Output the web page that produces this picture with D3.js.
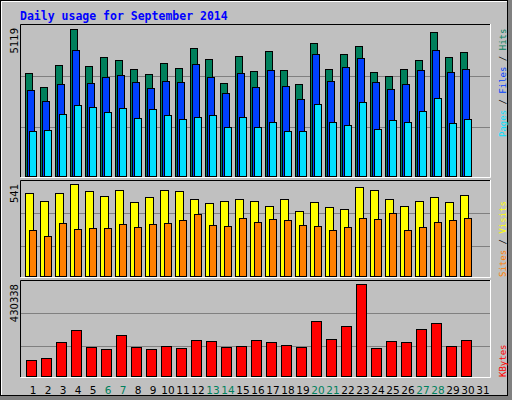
<!DOCTYPE html>
<html><head><meta charset="utf-8">
<script src="https://cdn.jsdelivr.net/npm/d3@7"></script>
<style>body{margin:0;background:#fff}</style>
</head><body>
<script>
// values
var days = d3.range(1, 32);
var weekend = [6, 7, 13, 14, 20, 21, 27, 28];
var hits = [3586,3099,3865,5119,3830,4144,4039,3726,3552,3935,3761,4457,4074,3238,4178,3656,4353,3691,3203,4631,3726,4248,4527,3621,3482,3726,4039,5014,4144,4318];
var files = [2995,2612,3203,4387,3238,3447,3517,3273,3064,3308,3273,3900,3447,2890,3586,3099,3691,3134,2681,4248,3308,3795,4109,3273,3029,3203,3691,4387,3621,3726];
var pages = [1567,1602,2159,2472,2403,2228,2368,2020,2333,2124,1985,2054,2124,1706,2054,1706,1880,1567,1567,2507,1880,1776,2577,1637,1950,1880,2263,2716,1845,1985];
var visits = [488,441,488,541,500,470,505,434,464,505,500,452,428,441,452,441,411,452,380,434,405,393,523,505,452,413,441,464,434,476];
var sites = [269,234,311,275,281,281,305,287,305,311,328,364,299,293,340,317,334,328,299,293,269,287,340,334,370,269,287,317,328,340];
var kbytes = [76800,86200,157000,213500,133400,124000,190000,133400,124000,138100,128700,166400,161700,133400,138100,166400,157000,142800,133400,255900,171100,232400,430338,128700,161700,157000,218200,246500,138100,166400];

var W = 512, H = 400;
var svg = d3.select("body").append("svg").attr("width", W).attr("height", H);

// frame
svg.append("rect").attr("width", W).attr("height", H).attr("fill", "#808080");
svg.append("rect").attr("width", W - 4).attr("height", H - 4).attr("fill", "#c0c0c0");
svg.append("rect").attr("x", 0.5).attr("y", 0.5).attr("width", W - 5).attr("height", H - 5)
  .attr("fill", "none").attr("stroke", "#000");
svg.append("path").attr("d", "M1.5 " + (H - 5) + " V1.5 H" + (W - 5)).attr("fill", "none").attr("stroke", "#fff");

svg.append("text").attr("x", 20).attr("y", 20)
  .style("font-family", "DejaVu Sans Mono").style("font-weight", "bold").style("font-size", "11.5px")
  .attr("fill", "#0000ff").text("Daily usage for September 2014");

var x = d3.scaleLinear().domain([1, 31]).range([25, 475]);

var panels = [
  {top: 24, bottom: 177, base: 176, maxY: 29, max: 5119, label: "5119", grid: [127, 76]},
  {top: 180, bottom: 277, base: 276, maxY: 184, max: 541, label: "541", grid: [246, 213]},
  {top: 280, bottom: 377, base: 376, maxY: 284, max: 430338, label: "430338", grid: [346, 313]}
];

panels.forEach(function (p) {
  p.y = d3.scaleLinear().domain([0, p.max]).range([p.base, p.maxY]);
  svg.append("path").attr("d", "M20.5 " + p.bottom + " V" + (p.top + 0.5) + " H490").attr("fill", "none").attr("stroke", "#000");
  svg.append("path").attr("d", "M20.5 " + (p.bottom + 0.5) + " H490.5 V" + p.top).attr("fill", "none").attr("stroke", "#fff");
  p.grid.forEach(function (g) {
    svg.append("line").attr("x1", 21).attr("x2", 490).attr("y1", g + 0.5).attr("y2", g + 0.5)
      .attr("stroke", "#808080");
  });
  svg.append("text").attr("transform", "translate(18," + (p.top + 4) + ") rotate(-90)")
    .attr("text-anchor", "end").style("font-family", "DejaVu Sans").style("font-size", "10px")
    .attr("fill", "#000").text(p.label);
});

function bars(p, data, dx, w, color) {
  svg.append("g").selectAll("rect").data(data).enter().append("rect")
    .attr("x", function (d, i) { return x(days[i]) + dx + 0.5; })
    .attr("y", function (d) { return Math.round(p.y(d)) + 0.5; })
    .attr("width", w)
    .attr("height", function (d) { return p.base - Math.round(p.y(d)); })
    .attr("fill", color).attr("stroke", "#000");
}
bars(panels[0], hits, 0, 7, "#00805c");
bars(panels[0], files, 2, 7, "#0040ff");
bars(panels[0], pages, 4, 7, "#00e0ff");
bars(panels[1], visits, 0, 8, "#ffff00");
bars(panels[1], sites, 4, 7, "#ff8000");
bars(panels[2], kbytes, 1, 10, "#ff0000");

// day labels
svg.append("g").selectAll("text").data(days).enter().append("text")
  .attr("x", function (d) { return x(d) + 8; }).attr("y", 394)
  .attr("text-anchor", "middle").style("font-family", "DejaVu Sans").style("font-size", "10.5px")
  .attr("fill", function (d) { return weekend.indexOf(d) >= 0 ? "#00805c" : "#000"; })
  .text(function (d) { return d; });

// right side legends
function legend(y, parts) {
  var t = svg.append("text").attr("transform", "translate(506," + y + ") rotate(-90)")
    .style("font-family", "DejaVu Sans Mono").style("font-size", "9px");
  parts.forEach(function (q) { t.append("tspan").attr("fill", q[1]).text(q[0]); });
}
legend(137, [["Pages", "#00e0ff"], [" / ", "#000"], ["Files", "#0040ff"], [" / ", "#000"], ["Hits", "#00805c"]]);
legend(277, [["Sites", "#ff8000"], [" / ", "#000"], ["Visits", "#ffff00"]]);
legend(377, [["KBytes", "#ff0000"]]);
</script>
</body></html>
